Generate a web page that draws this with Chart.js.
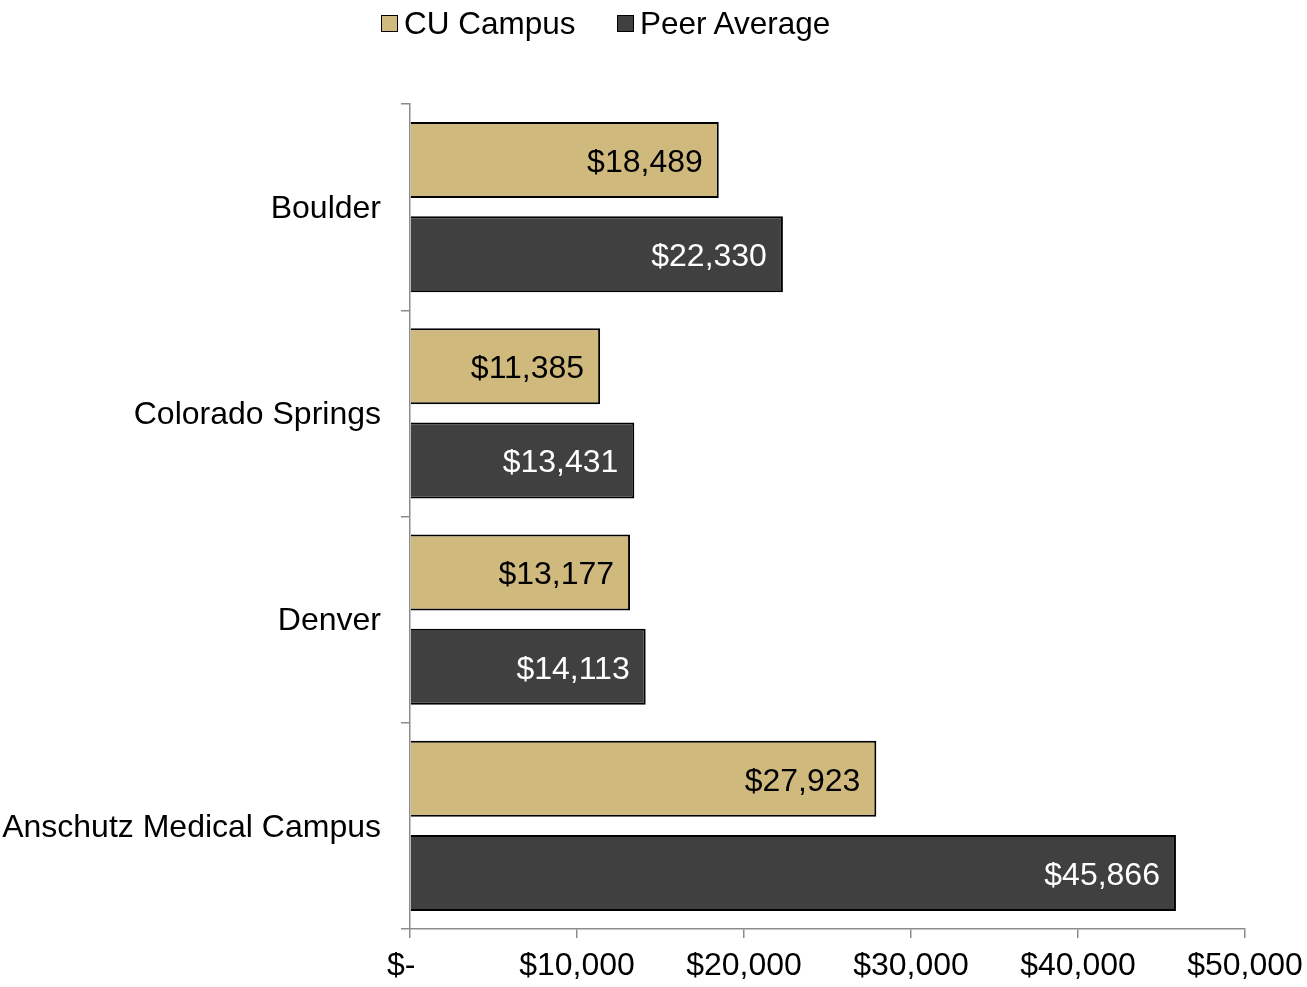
<!DOCTYPE html>
<html>
<head>
<meta charset="utf-8">
<script src="https://cdn.jsdelivr.net/npm/chart.js@4.4.0/dist/chart.umd.min.js"></script>
<style>
  html, body { margin: 0; padding: 0; background: #fff; }
  #wrap { position: relative; width: 1307px; height: 987px; }
  #chart { position: absolute; left: 0; top: 0; }
  .leg { position: absolute; top: 5px; font-family: "Liberation Sans", Arial, sans-serif; font-size: 31.5px; color: #000; line-height: 36px; white-space: nowrap; }
  .leg i { position: absolute; top: 10px; width: 15px; height: 15px; border: 1px solid #000; }
</style>
</head>
<body>
<div id="wrap">
  <canvas id="chart" width="1307" height="987"></canvas>
  <div class="leg" style="left:381px;"><i style="left:0;background:#CFB97D;"></i><span style="margin-left:23px;">CU Campus</span></div>
  <div class="leg" style="left:617px;"><i style="left:0;background:#404040;"></i><span style="margin-left:23px;">Peer Average</span></div>
</div>
<script>
const categories = ["Boulder", "Colorado Springs", "Denver", "Anschutz Medical Campus"];
const cuCampus = [18489, 11385, 13177, 27923];
const peerAverage = [22330, 13431, 14113, 45866];
const seriesNames = ["CU Campus", "Peer Average"];
const xTicks = [0, 10000, 20000, 30000, 40000, 50000];

const FONT = "'Liberation Sans', Arial, sans-serif";
const FS = 32;
const fmt = v => v === 0 ? "$-  " : "$" + v.toLocaleString("en-US");

const labelPlugin = {
  id: "barLabels",
  afterDatasetsDraw(chart) {
    const ctx = chart.ctx;
    ctx.save();
    ctx.font = FS + "px " + FONT;
    ctx.textAlign = "right";
    ctx.textBaseline = "middle";
    chart.data.datasets.forEach((ds, di) => {
      const meta = chart.getDatasetMeta(di);
      meta.data.forEach((bar, i) => {
        ctx.fillStyle = ds.labelColor;
        ctx.fillText(fmt(ds.data[i]), bar.x - 16, bar.y + 3);
      });
    });
    ctx.restore();
  }
};

new Chart(document.getElementById("chart"), {
  type: "bar",
  data: {
    labels: categories,
    datasets: [
      { label: seriesNames[0], data: cuCampus, backgroundColor: "#CFB97D", borderColor: "#000", borderWidth: 2, labelColor: "#000",
        categoryPercentage: 0.915, barPercentage: 0.805 },
      { label: seriesNames[1], data: peerAverage, backgroundColor: "#404040", borderColor: "#000", borderWidth: 2, labelColor: "#fff",
        categoryPercentage: 0.915, barPercentage: 0.805 }
    ]
  },
  options: {
    indexAxis: "y",
    responsive: false,
    animation: false,
    layout: { padding: { top: 104, right: 62, bottom: 0, left: 0 } },
    plugins: { legend: { display: false }, tooltip: { enabled: false } },
    scales: {
      x: {
        min: 0, max: 50000,
        afterBuildTicks: s => { s.ticks = xTicks.map(v => ({ value: v })); },
        afterFit: s => { s.height = 58; s.paddingLeft = 0; s.paddingRight = 0; },
        ticks: { callback: v => fmt(v), color: "#000", font: { family: FONT, size: FS }, padding: 9, maxRotation: 0, autoSkip: false },
        grid: { drawOnChartArea: false, drawTicks: true, tickLength: 9, color: "#8c8c8c", lineWidth: 1.5 },
        border: { color: "#8c8c8c", width: 1.5 }
      },
      y: {
        offset: true,
        afterFit: s => { s.width = 410; s.paddingTop = 0; s.paddingBottom = 0; },
        ticks: { color: "#000", font: { family: FONT, size: FS }, padding: 20, labelOffset: 2 },
        grid: { drawOnChartArea: false, drawTicks: true, tickLength: 9, color: "#8c8c8c", lineWidth: 1.5, offset: true },
        border: { color: "#8c8c8c", width: 1.5 }
      }
    }
  },
  plugins: [labelPlugin]
});
</script>
</body>
</html>
